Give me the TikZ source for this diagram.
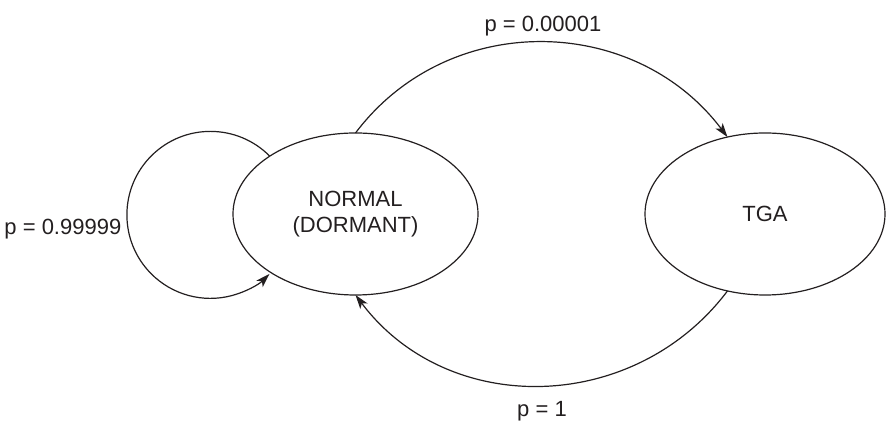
\documentclass[tikz,border=0pt]{standalone}
\usepackage{fontspec}
\setmainfont{Liberation Sans}
\usetikzlibrary{arrows.meta,shapes.geometric}
\definecolor{ink}{HTML}{231F20}
\begin{document}
\begin{tikzpicture}[x=1pt,y=1pt,
  state/.style={draw=ink, ellipse, line width=1.2pt, minimum width=245pt,
    minimum height=162pt, inner sep=0pt, outer sep=0pt, text=ink,
    align=center, font=\fontsize{22}{26}\selectfont},
  link/.style={draw=ink, line width=1.2pt,
    -{Stealth[length=14pt,width=9pt,inset=3.5pt]}},
  prob/.style={text=ink, font=\fontsize{22}{26}\selectfont, inner sep=0pt}]
\useasboundingbox (0,0) rectangle (889,422);

% the two states
\node[state] (normal) at (355.5,208) {NORMAL\\(DORMANT)};
\node[state, minimum width=240pt] (tga) at (765,208) {TGA};

% transitions
\draw[link] (normal.146) arc[start angle=44.7, end angle=315, radius=83.5pt];
\draw[link] (normal.90) to[out=53, in=127, looseness=1.06] (tga.116);
\draw[link] (tga.244) to[out=233, in=307, looseness=1.06] (normal.270);

% transition probabilities
\node[prob, anchor=base east] (pstay) at (121.5,187) {p = 0.99999};
\node[prob, anchor=base] (pfail) at (543,390) {p = 0.00001};
\node[prob, anchor=base] (pback) at (542,5) {p = 1};
\end{tikzpicture}
\end{document}
